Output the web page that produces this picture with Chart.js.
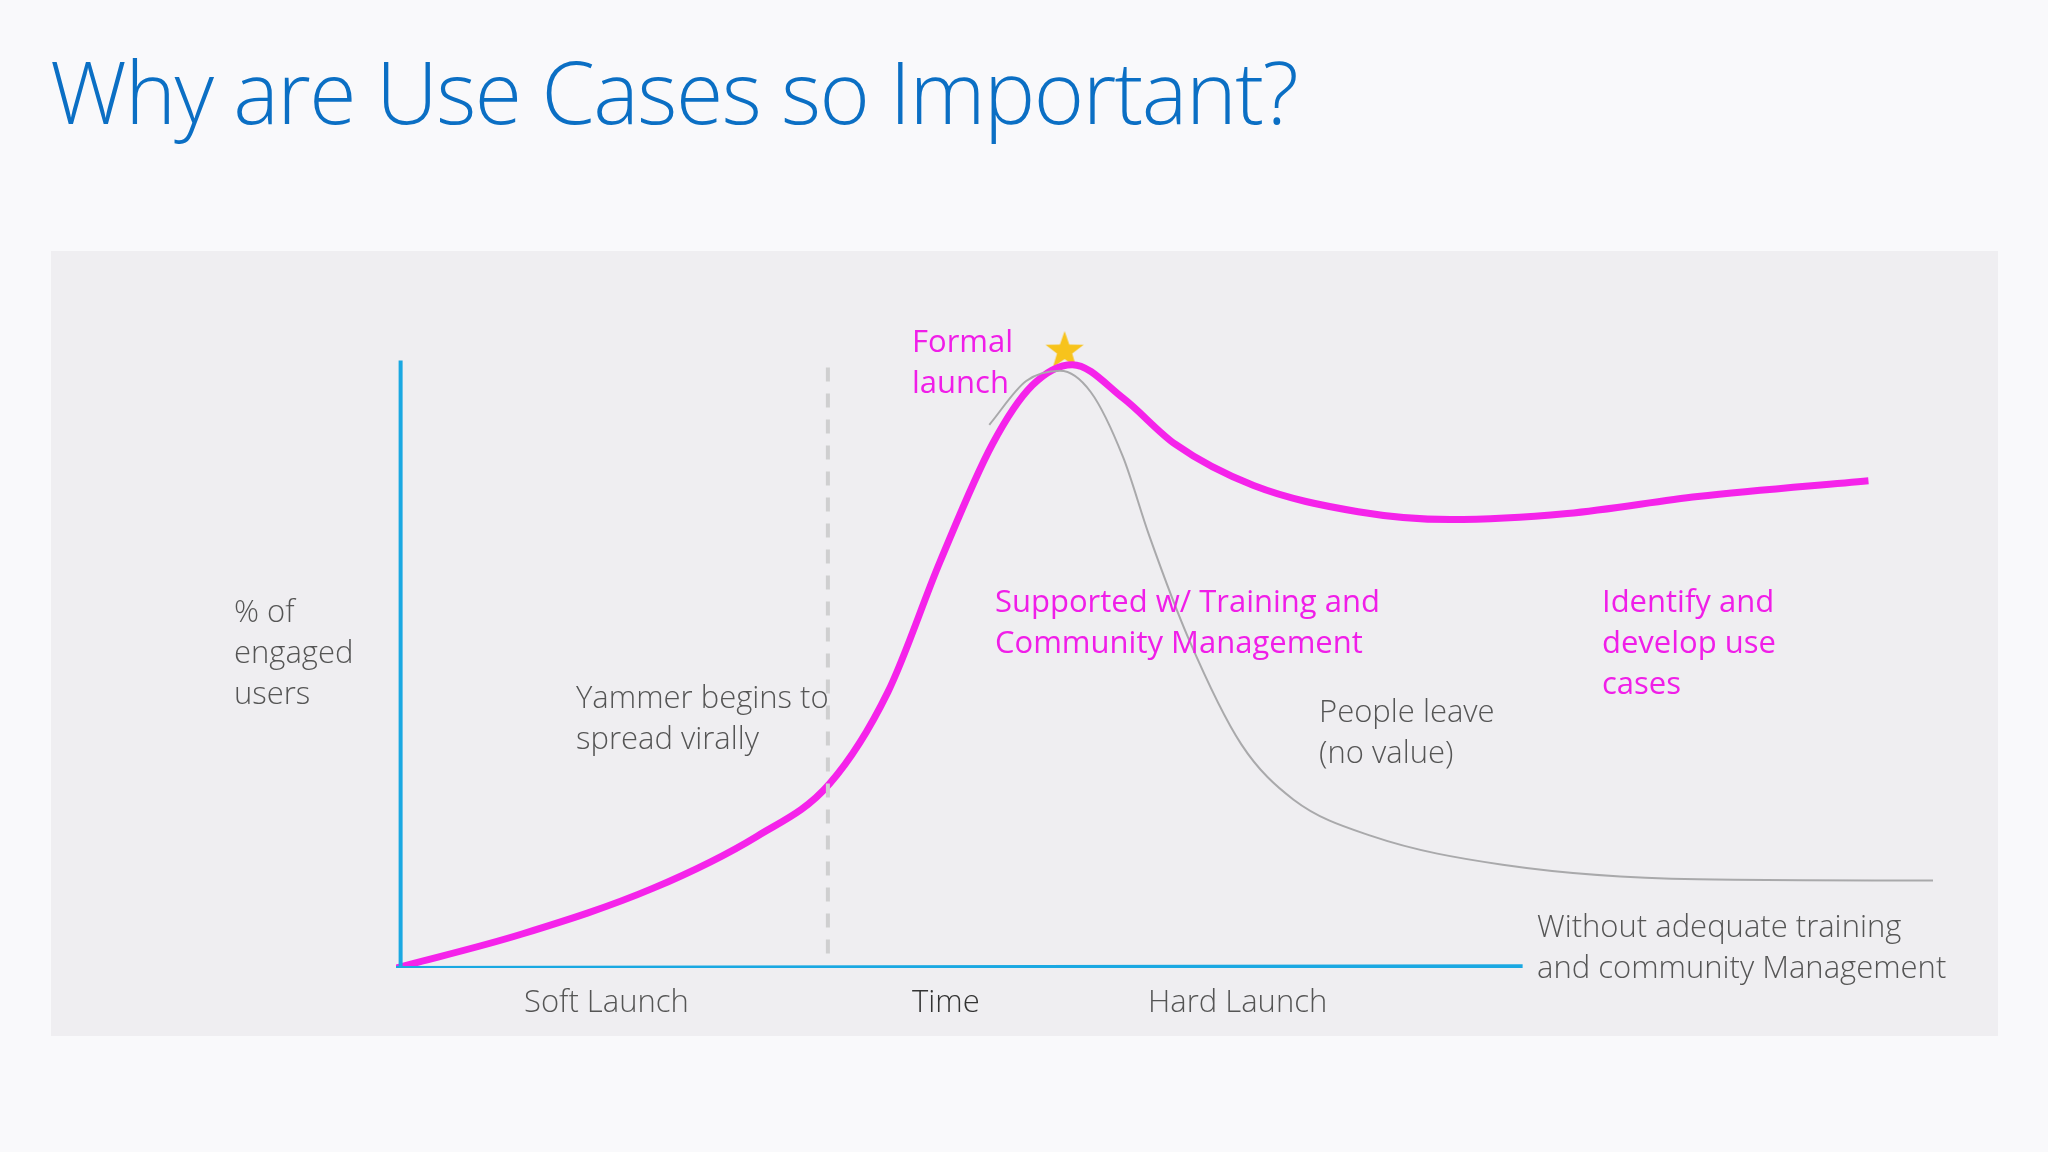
<!DOCTYPE html>
<html><head><meta charset="utf-8">
<script src="https://cdn.jsdelivr.net/npm/chart.js@4"></script>
<style>
html,body{margin:0;padding:0;width:2048px;height:1152px;background:#f9f9fb;overflow:hidden;font-family:"Open Sans","Noto Sans",sans-serif;font-weight:300}
#panel{position:absolute;left:51px;top:251px;width:1947px;height:785px;background:#efeef1}
#c{position:absolute;left:0;top:0}
.t{position:absolute;font-size:31px;line-height:41px;color:#555;white-space:nowrap}
.p{color:#f01ee8;font-weight:400}
#title{position:absolute;left:50px;top:32px;font-size:86px;color:#0b6fc4;font-weight:300;letter-spacing:-1.5px}
</style></head><body>
<div id="title">Why are Use Cases so Important?</div>
<div id="panel"></div>
<canvas id="c" width="2048" height="1152"></canvas>
<div class="t" style="left:234px;top:590px">% of<br>engaged<br>users</div>
<div class="t" style="left:576px;top:676px">Yammer begins to<br>spread virally</div>
<div class="t p" style="left:912px;top:320px">Formal<br>launch</div>
<div class="t p" style="left:995px;top:580px">Supported w/ Training and<br>Community Management</div>
<div class="t p" style="left:1602px;top:580px">Identify and<br>develop use<br>cases</div>
<div class="t" style="left:1319px;top:690px">People leave<br>(no value)</div>
<div class="t" style="left:1537px;top:905px">Without adequate training<br>and community Management</div>
<div class="t" style="left:524px;top:980px">Soft Launch</div>
<div class="t" style="left:912px;top:980px;color:#333">Time</div>
<div class="t" style="left:1148px;top:980px">Hard Launch</div>
<script>
const pinkX=[0,8.2,16.7,23.5,28.2,32.0,35.4,38.8,41.4,44.0,47.3,50.7,55.8,62.6,68.6,76.2,84.7,95.8];
const pinkY=[0,5.6,13.1,21.7,30.3,45.4,66.9,86.2,95.9,99.3,93.8,86.2,79.4,75.1,73.8,74.8,77.6,80.2];
const grayX=[38.6,41.0,43.2,45.2,47.3,49.0,51.6,55.0,58.4,63.5,72.0,84.7,100];
const grayY=[89.4,96.6,98.3,94.8,84.1,71.2,54.0,36.8,27.7,21.7,17.0,14.6,14.4];
const dashX=[28.1,28.1], dashY=[2.4,100];
const yAxisX=[0.3,0.3], yAxisY=[0,100];
const xAxisX=[0,73.3], xAxisY=[0,0.3];
const starX=[43.5], starY=[101.7];
const pts=(xs,ys)=>xs.map((x,i)=>({x,y:ys[i]}));
const star=document.createElement('canvas');star.width=44;star.height=44;
{const g=star.getContext('2d');g.fillStyle='#f7c31c';g.beginPath();
for(let i=0;i<10;i++){const r=i%2?8:20,a=-Math.PI/2+i*Math.PI/5;g.lineTo(22+r*Math.cos(a),23+r*Math.sin(a));}
g.closePath();g.fill();}
new Chart(document.getElementById('c'),{type:'line',
data:{datasets:[
{data:pts(grayX,grayY),borderColor:'#a9a9ab',borderWidth:2,cubicInterpolationMode:'monotone',pointRadius:0},
{data:pts(dashX,dashY),borderColor:'#cfcfd0',borderWidth:4,borderDash:[14,12],pointRadius:0},
{data:pts(yAxisX,yAxisY),borderColor:'#1aa8e2',borderWidth:4,pointRadius:0},
{data:pts(xAxisX,xAxisY),borderColor:'#1aa8e2',borderWidth:4,pointRadius:0},
{data:pts(pinkX,pinkY),borderColor:'#f523ea',borderWidth:7,pointRadius:0,cubicInterpolationMode:'monotone'},
{data:pts(starX,starY),pointStyle:star,pointRadius:22,showLine:false}
]},
options:{responsive:false,animation:false,events:[],
layout:{padding:{left:396,right:115,top:330,bottom:184}},
plugins:{legend:{display:false},tooltip:{enabled:false}},
scales:{x:{type:'linear',min:0,max:100,display:false},y:{min:0,max:105,display:false}}}});
</script></body></html>
